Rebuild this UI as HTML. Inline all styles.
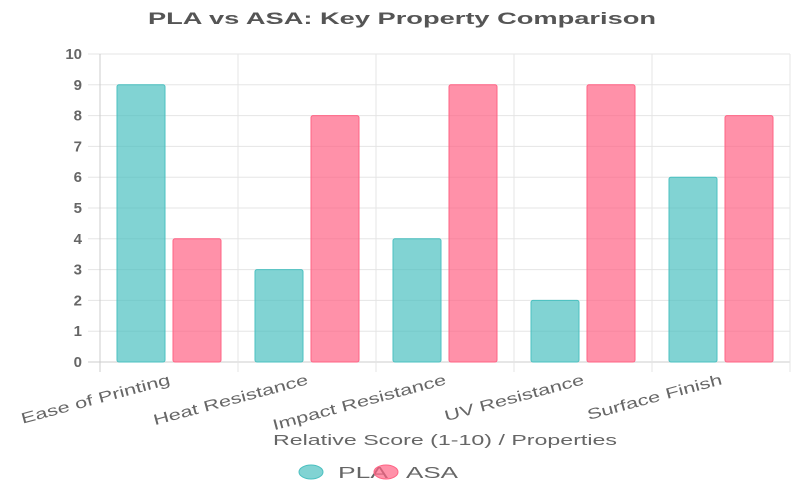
<!DOCTYPE html>
<html><head><meta charset="utf-8"><style>
body{margin:0;background:#fff}
svg{display:block;font-family:"Liberation Sans",sans-serif}
</style></head><body>
<svg id="chart" width="800" height="500" viewBox="0 0 800 500">
<text x="402" y="24" text-anchor="middle" font-size="17" font-weight="bold" fill="#555" textLength="508" lengthAdjust="spacingAndGlyphs">PLA vs ASA: Key Property Comparison</text>
<g id="grid"></g><g id="bars"></g><g id="labels"></g>
<text x="445" y="445" text-anchor="middle" font-size="15" fill="#666" textLength="344" lengthAdjust="spacingAndGlyphs">Relative Score (1-10) / Properties</text>
<g>
<g><ellipse cx="311" cy="472" rx="12" ry="7" fill="rgba(75,192,192,0.7)" stroke="#4bc0c0"/><text x="338" y="478" font-size="16" fill="#666" textLength="50" lengthAdjust="spacingAndGlyphs">PLA</text></g>
<g><ellipse cx="386" cy="472" rx="12" ry="7" fill="rgba(255,99,132,0.7)" stroke="#ff6384"/><text x="406" y="478" font-size="16" fill="#666" textLength="52" lengthAdjust="spacingAndGlyphs">ASA</text></g>
</g>
</svg>
<script>
const categories=["Ease of Printing","Heat Resistance","Impact Resistance","UV Resistance","Surface Finish"];
const plaValues=[9,3,4,2,6];
const asaValues=[4,8,9,9,8];
const yTicks=[0,1,2,3,4,5,6,7,8,9,10];
const NS="http://www.w3.org/2000/svg";
const L=100,R=790,T=54,B=362,yMax=10;
const y=v=>B-(v/yMax)*(B-T);
const bw=(R-L)/categories.length;
const x=i=>L+i*bw;
function mk(t,a,p){const e=document.createElementNS(NS,t);for(const k in a)e.setAttribute(k,a[k]);p.appendChild(e);return e;}
const g=document.getElementById('grid'),bg=document.getElementById('bars'),lg=document.getElementById('labels');
yTicks.forEach(v=>{
 const l=mk('line',{x1:88,x2:R,y1:y(v),y2:y(v),stroke:v===0?'#ccc':'#e5e5e5'},g);
 
 
 const t=mk('text',{x:82,y:y(v)+5,'text-anchor':'end','font-size':15,'font-weight':'bold',fill:'#666'},g);t.textContent=v;
 
 
});
for(let i=0;i<=categories.length;i++){
 const l=mk('line',{x1:x(i),x2:x(i),y1:T,y2:B+10,stroke:i===0?'#ccc':'#e5e5e5'},g);
 
 
}
const barW=48,gap=8;
categories.forEach((c,i)=>{
 const c0=x(i)+bw/2;
 [[plaValues[i],'rgba(75,192,192,0.7)','#4bc0c0',c0-gap/2-barW,'bar-pla'],[asaValues[i],'rgba(255,99,132,0.7)','#ff6384',c0+gap/2,'bar-asa']].forEach(([v,f,s,bx,n])=>{
  const r=mk('rect',{x:bx,y:y(v),width:barW,height:B-y(v),fill:f,stroke:s,'stroke-width':1,rx:2},bg);
  
  
 });
 const t=mk('text',{x:c0+2,y:384,'text-anchor':'end','font-size':15,fill:'#666',transform:`rotate(-15 ${c0+2} 384)`},lg);
 t.textContent=c;
 
 
 const w=t.getComputedTextLength();
 t.setAttribute('textLength',w*1.45);
 t.setAttribute('lengthAdjust','spacingAndGlyphs');
});
</script>
</body></html>
